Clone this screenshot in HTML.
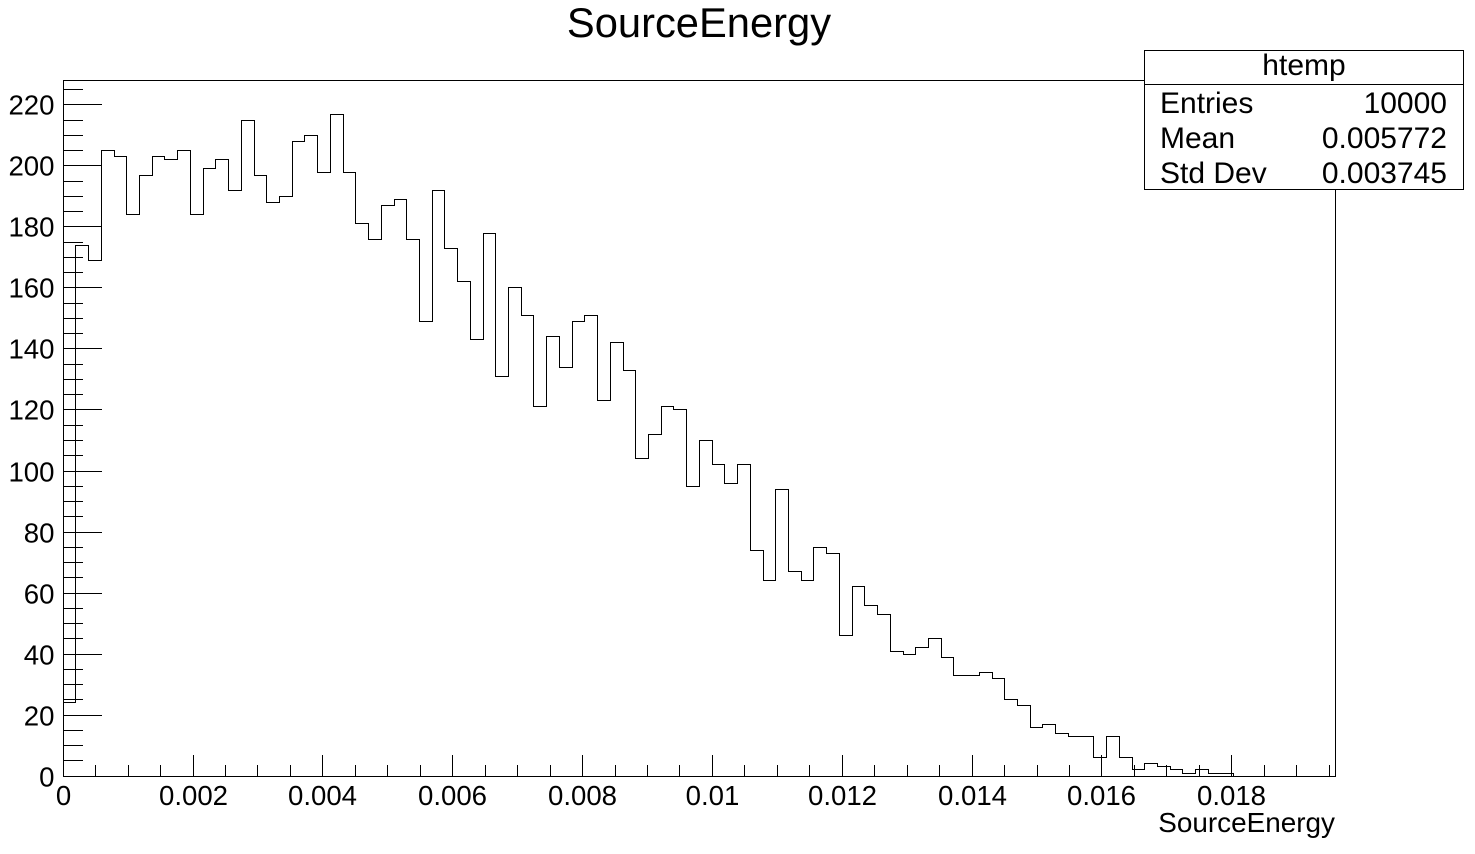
<!DOCTYPE html>
<html lang="en">
<head>
<meta charset="utf-8">
<title>SourceEnergy</title>
<style>
html,body{margin:0;padding:0;background:#fff;width:1475px;height:854px;overflow:hidden}
svg{display:block;font-family:"Liberation Sans",Arial,sans-serif;fill:#000}
text{fill:#000}
.ln{stroke:#000;stroke-width:1;fill:none;shape-rendering:crispEdges}
</style>
</head>
<body>
<svg id="chart" xmlns="http://www.w3.org/2000/svg" width="1475" height="854" viewBox="0 0 1475 854">
  <text x="699" y="37" font-size="41.7" text-anchor="middle">SourceEnergy</text>
  <rect class="ln" x="63.5" y="80.5" width="1272" height="696"/>
  <g id="y-axis"></g>
  <g id="x-axis"></g>
  <path id="hist" class="ln"/>
  <text x="1335" y="832" font-size="27.9" text-anchor="end">SourceEnergy</text>
  <g>
    <rect x="1144.5" y="50.5" width="319" height="139" fill="#fff" stroke="#000" stroke-width="1" shape-rendering="crispEdges" style="fill:#fff"/>
    <line class="ln" x1="1144.5" x2="1463.5" y1="84.5" y2="84.5"/>
    <text x="1304" y="75" font-size="30" text-anchor="middle">htemp</text>
    <text x="1160" y="113" font-size="30">Entries</text>
    <text x="1447" y="113" font-size="30" text-anchor="end">10000</text>
    <text x="1160" y="148" font-size="30">Mean</text>
    <text x="1447" y="148" font-size="30" text-anchor="end">0.005772</text>
    <text x="1160" y="183" font-size="30">Std Dev</text>
    <text x="1447" y="183" font-size="30" text-anchor="end">0.003745</text>
  </g>
</svg>
<script>
const binCounts = [24,174,169,205,203,184,197,203,202,205,184,199,202,192,215,197,188,190,208,210,198,217,198,181,176,187,189,176,149,192,173,162,143,178,131,160,151,121,144,134,149,151,123,142,133,104,112,121,120,95,110,102,96,102,74,64,94,67,64,75,73,46,62,56,53,41,40,42,45,39,33,33,34,32,25,23,16,17,14,13,13,6,13,6,2,4,3,2,1,2,1,1,0,0,0,0,0,0,0,0];
const binWidth = 0.000196;
const xTickValues = [0,0.002,0.004,0.006,0.008,0.01,0.012,0.014,0.016,0.018];
const xTickLabels = ["0","0.002","0.004","0.006","0.008","0.01","0.012","0.014","0.016","0.018"];
const yTickValues = [0,20,40,60,80,100,120,140,160,180,200,220];
const yTickLabels = ["0","20","40","60","80","100","120","140","160","180","200","220"];
const xMinorStep = 0.0005;
const xAxisMax = 0.0196;
const yMinorStep = 5;
const yAxisMax = 228;

const NS = "http://www.w3.org/2000/svg";
function xScale(v){ return Math.floor(63.15 + v * 64925) + 0.5; }
function yScale(v){ return Math.floor(776.1 - v * 3.051) + 0.5; }

function addLine(parent, x1, y1, x2, y2){
  const l = document.createElementNS(NS, "line");
  l.setAttribute("class", "ln");
  l.setAttribute("x1", x1);
  l.setAttribute("y1", y1);
  l.setAttribute("x2", x2);
  l.setAttribute("y2", y2);
  parent.appendChild(l);
  return l;
}
function addText(parent, x, y, str, anchor){
  const t = document.createElementNS(NS, "text");
  t.setAttribute("x", x);
  t.setAttribute("y", y);
  t.setAttribute("font-size", "27.6");
  t.setAttribute("text-anchor", anchor);
  t.textContent = str;
  parent.appendChild(t);
  return t;
}

const yAxis = document.getElementById("y-axis");
const xAxis = document.getElementById("x-axis");

for (let k = 0; k * yMinorStep < yAxisMax; k++) {
  const val = k * yMinorStep;
  if (k % 4 === 0) continue;
  const tick = addLine(yAxis, 63.5, yScale(val), 83, yScale(val));
  
  
}
yTickValues.forEach(function(val, i){
  const tick = addLine(yAxis, 63.5, yScale(val), 102, yScale(val));
  
  
  const label = addText(yAxis, 54.5, yScale(val) + 10, yTickLabels[i], "end");
  
  
});

for (let k = 0; k * xMinorStep < xAxisMax; k++) {
  const val = k * xMinorStep;
  if (k % 4 === 0) continue;
  const tick = addLine(xAxis, xScale(val), 776.5, xScale(val), 765);
  
  
}
xTickValues.forEach(function(val, i){
  const tick = addLine(xAxis, xScale(val), 776.5, xScale(val), 755);
  
  
  const label = addText(xAxis, xScale(val), 805, xTickLabels[i], "middle");
  
  
});

let d = "M" + xScale(0) + " " + yScale(binCounts[0]);
binCounts.forEach(function(count, i){
  d += " L" + xScale(i * binWidth) + " " + yScale(count);
  d += " L" + xScale((i + 1) * binWidth) + " " + yScale(count);
});
document.getElementById("hist").setAttribute("d", d);
</script>
</body>
</html>
